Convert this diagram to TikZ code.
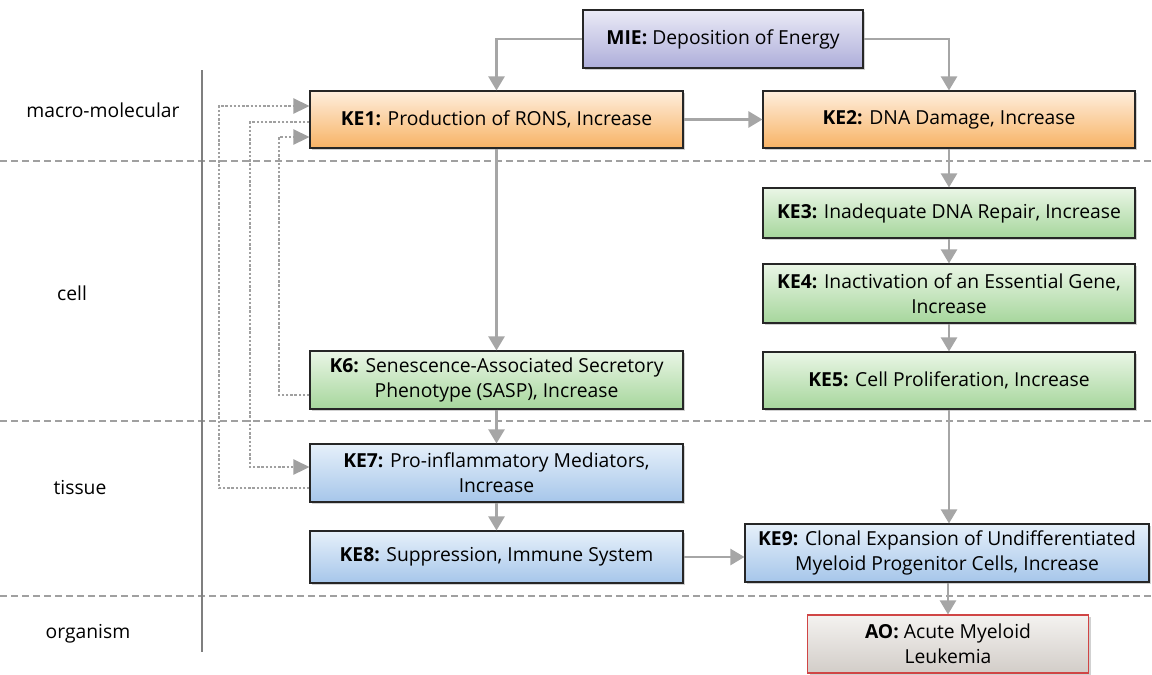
\documentclass[tikz,border=0pt]{standalone}
\usepackage{fontspec}
\setmainfont{Open Sans}
\usetikzlibrary{arrows.meta,shadows}
\definecolor{conn}{HTML}{A6A6A6}
\definecolor{dotc}{HTML}{A0A0A0}
\definecolor{sep}{HTML}{A0A0A0}
\definecolor{axis}{HTML}{7F7F7F}
\definecolor{mieT}{HTML}{EAEAF6}\definecolor{mieB}{HTML}{AEAEDA}
\definecolor{orT}{HTML}{FEEEDD}\definecolor{orB}{HTML}{F8B365}
\definecolor{grT}{HTML}{EAF6E6}\definecolor{grB}{HTML}{A6D69C}
\definecolor{blT}{HTML}{E6F0FA}\definecolor{blB}{HTML}{A6C6EA}
\definecolor{aoT}{HTML}{F4F2F0}\definecolor{aoB}{HTML}{D2CDC8}
\definecolor{aoR}{HTML}{D04545}
\tikzset{
  box/.style={draw=black!85, line width=1.1pt, align=center, inner sep=2pt,
    font=\fontsize{19.3}{25}\selectfont,
    drop shadow={shadow xshift=2pt, shadow yshift=-2pt, opacity=0.18, fill=black}},
  miebox/.style={box, top color=mieT, bottom color=mieB},
  orbox/.style={box, top color=orT, bottom color=orB},
  grbox/.style={box, top color=grT, bottom color=grB},
  blbox/.style={box, top color=blT, bottom color=blB},
  aobox/.style={box, draw=aoR, top color=aoT, bottom color=aoB},
  arr/.style={draw=conn, line width=2.4pt, -{Triangle[width=16pt,length=14pt]}},
  dotarr/.style={draw=dotc, line width=2.6pt, dash pattern=on 2.4pt off 1.8pt, -{Triangle[width=15pt,length=16pt]}},
  sepline/.style={draw=sep, line width=1.4pt, dash pattern=on 7pt off 4pt},
  lvl/.style={font=\fontsize{19.3}{25}\selectfont, anchor=center},
}
\begin{document}
\begin{tikzpicture}[x=1pt,y=-1pt]
\useasboundingbox (0,0) rectangle (1152,675);
% separators
\draw[sepline] (0,161) -- (1152,161);
\draw[sepline] (0,421) -- (1152,421);
\draw[sepline] (0,596) -- (1152,596);
\draw[draw=axis, line width=2.4pt] (202,70) -- (202,652);
% level labels
\node[lvl] (Lmacro) at (103,110) {macro-molecular};
\node[lvl] (Lcell) at (72,293) {cell};
\node[lvl] (Ltissue) at (80,488) {tissue};
\node[lvl] (Lorg) at (88,634) {organism};
% boxes
\node[miebox, minimum width=280pt, minimum height=58pt] (MIE) at (723,39) {\textbf{MIE:} Deposition of Energy};
\node[orbox, minimum width=373pt, minimum height=57pt] (KE1) at (496.5,119.5) {\textbf{KE1:} Production of RONS, Increase};
\node[orbox, minimum width=372pt, minimum height=57pt] (KE2) at (949,119.5) {\textbf{KE2:} DNA Damage, Increase};
\node[grbox, minimum width=372pt, minimum height=50pt] (KE3) at (949,213) {\textbf{KE3:} Inadequate DNA Repair, Increase};
\node[grbox, minimum width=372pt, minimum height=59pt] (KE4) at (949,293.5) {\textbf{KE4:} Inactivation of an Essential Gene,\\Increase};
\node[grbox, minimum width=372pt, minimum height=57pt] (KE5) at (949,380.5) {\textbf{KE5:} Cell Proliferation, Increase};
\node[grbox, minimum width=373pt, minimum height=58pt] (K6) at (496.5,380) {\textbf{K6:} Senescence-Associated Secretory\\Phenotype (SASP), Increase};
\node[blbox, minimum width=373pt, minimum height=58pt] (KE7) at (496.5,473) {\textbf{KE7:} Pro-inflammatory Mediators,\\Increase};
\node[blbox, minimum width=373pt, minimum height=52pt] (KE8) at (496.5,557) {\textbf{KE8:} Suppression, Immune System};
\node[blbox, minimum width=404pt, minimum height=58pt] (KE9) at (947,553) {\textbf{KE9:} Clonal Expansion of Undifferentiated\\Myeloid Progenitor Cells, Increase};
\node[aobox, minimum width=281pt, minimum height=58pt] (AO) at (948,644) {\textbf{AO:} Acute Myeloid\\Leukemia};
% solid connectors
\draw[arr] (MIE.west) -| (KE1.north);
\draw[arr] (MIE.east) -| (KE2.north);
\draw[arr] (KE1.east) -- (KE2.west);
\draw[arr] (KE1.south) -- (K6.north);
\draw[arr] (KE2.south) -- (KE3.north);
\draw[arr] (KE3.south) -- (KE4.north);
\draw[arr] (KE4.south) -- (KE5.north);
\draw[arr] (KE5.south) -- (KE5.south |- KE9.north);
\draw[arr] (K6.south) -- (KE7.north);
\draw[arr] (KE7.south) -- (KE8.north);
\draw[arr] (KE8.east) -- (KE8.east -| KE9.west);
\draw[arr] (KE9.south -| AO.north) -- (AO.north);
% dotted feedback connectors
\draw[dotarr] (KE7.west |- 0,488) -| (219,106) -- (KE1.west |- 0,106);
\draw[dotarr] (KE1.west |- 0,122) -| (250,467) -- (KE7.west |- 0,467);
\draw[dotarr] (K6.west |- 0,395) -| (279,137) -- (KE1.west |- 0,137);
\end{tikzpicture}
\end{document}
